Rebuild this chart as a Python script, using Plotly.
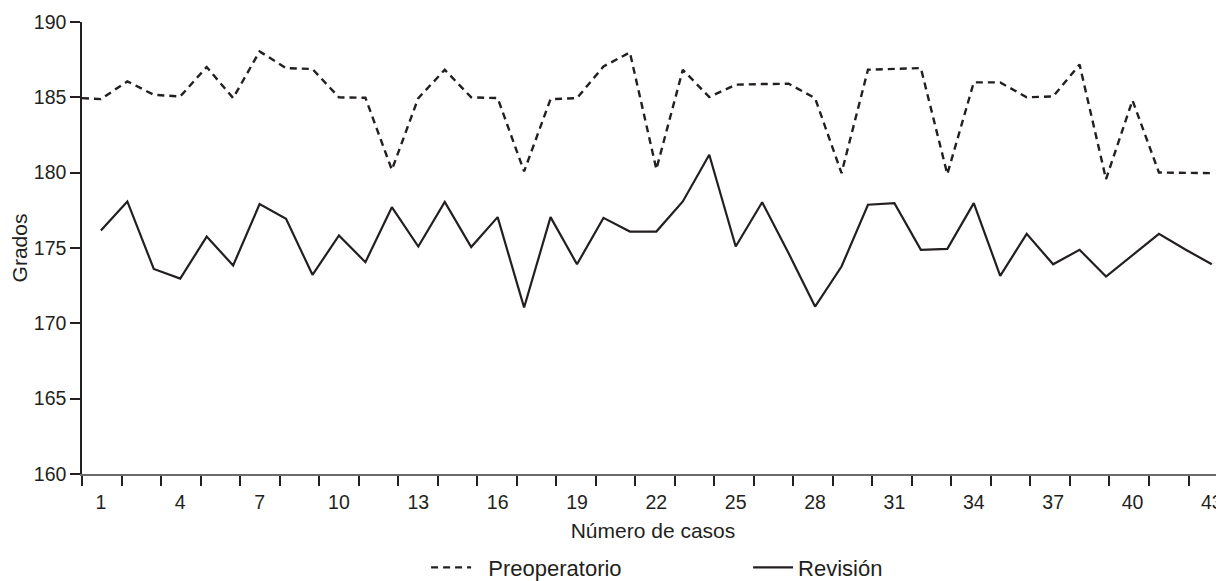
import plotly.graph_objects as go

# ---- data ----
cases = list(range(1, 44))
preoperatorio = [184.88, 186.06, 185.17, 185.06, 187.01, 184.95, 188.05, 186.94, 186.88, 185.0,
                 184.97, 180.19, 184.95, 186.83, 185.0, 184.95, 180.08, 184.88, 184.95, 187.05,
                 187.98, 180.23, 186.83, 185.02, 185.84, 185.88, 185.9, 184.95, 179.97, 186.83,
                 186.9, 186.94, 179.9, 185.99, 185.99, 185.0, 185.06, 187.17, 179.57, 184.8,
                 180.01, 179.97, 179.97]
revision = [176.16, 178.09, 173.61, 172.97, 175.76, 173.84, 177.91, 176.94, 173.22, 175.83,
            174.06, 177.71, 175.10, 178.06, 175.06, 177.05, 171.05, 177.05, 173.92, 177.0,
            176.09, 176.09, 178.09, 181.19, 175.10, 178.04, 174.65, 171.11, 173.77, 177.87,
            177.98, 174.88, 174.94, 177.98, 173.15, 175.94, 173.92, 174.88, 173.10, 174.5,
            175.94, 174.9, 173.92]
# the dashed series starts at the left edge of the axis
pre_lead_x = [0.286]
pre_lead_y = [184.95]
x_tick_labels = [str(v) for v in range(1, 44, 3)]
y_ticks = [160, 165, 170, 175, 180, 185, 190]

X0, X1 = 0.286, 43.46
minor_step = 1.494
minor_vals = [X0 + k * minor_step for k in range(0, 30) if X0 + k * minor_step <= X1]

INK = "#231f20"
FONT = "Liberation Sans, Arial, sans-serif"

fig = go.Figure()
fig.add_trace(go.Scatter(
    x=pre_lead_x + cases, y=pre_lead_y + preoperatorio, mode="lines",
    name="\u00a0\u00a0Preoperatorio",
    line=dict(color=INK, width=2.4, dash="7px,5px"),
))
fig.add_trace(go.Scatter(
    x=cases, y=revision, mode="lines", name="Revisión",
    line=dict(color=INK, width=2.2),
))

# the page body has an 8px margin, so the margins below compensate for it
fig.update_layout(
    width=1224, height=581,
    margin=dict(l=74, r=8, t=14, b=115, autoexpand=False),
    paper_bgcolor="white", plot_bgcolor="white",
    font=dict(family=FONT, size=19.5, color="#231f20"),
    showlegend=True,
    legend=dict(orientation="h", x=0.3013, xanchor="left", y=-0.207, yanchor="middle",
                font=dict(size=22), entrywidth=267, entrywidthmode="pixels",
                itemwidth=40, traceorder="normal"),
    xaxis=dict(
        range=[X0, X1], showgrid=False, zeroline=False, automargin=False,
        showline=True, linecolor="#6a6a6a", linewidth=2,
        tickmode="array", tickvals=list(range(1, 44, 3)), ticktext=x_tick_labels,
        ticks="outside", ticklen=10, tickcolor="rgba(0,0,0,0)",
        minor=dict(tickmode="array", tickvals=minor_vals, ticks="outside",
                   ticklen=10, tickwidth=1.5, tickcolor=INK, showgrid=False),
        title=dict(text="Número de casos", standoff=11, font=dict(size=21)),
    ),
    yaxis=dict(
        range=[160, 190], showgrid=False, zeroline=False, automargin=False,
        showline=True, linecolor=INK, linewidth=1.5,
        tickmode="array", tickvals=y_ticks,
        ticks="outside", ticklen=10, tickwidth=1.5, tickcolor=INK,
        title=dict(text="Grados", standoff=6, font=dict(size=21)),
    ),
)

fig.write_html("out.html")
